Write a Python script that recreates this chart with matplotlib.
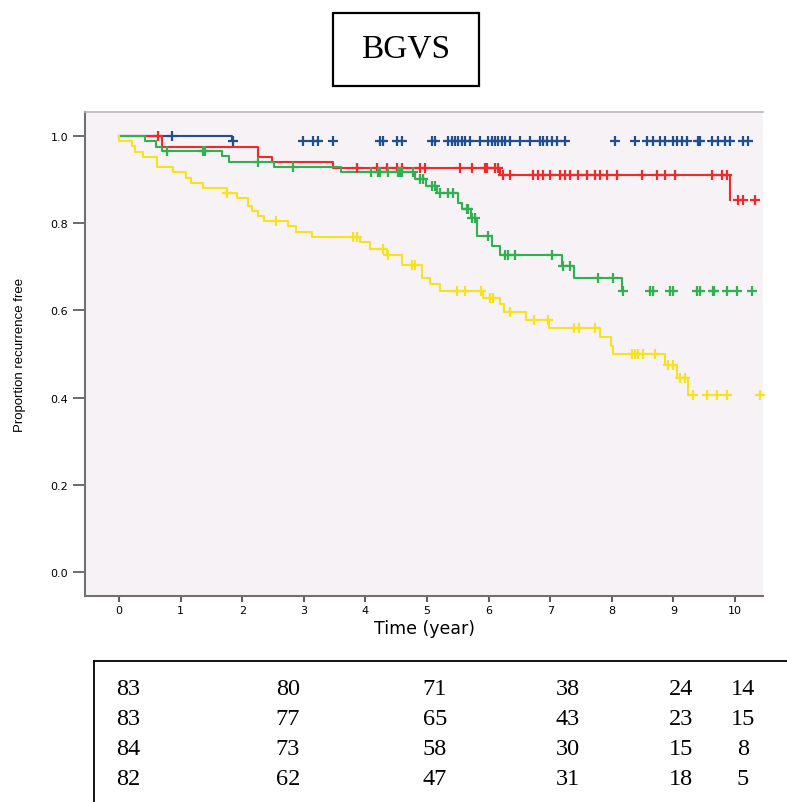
import numpy as np
import matplotlib.pyplot as plt
from matplotlib.lines import Line2D
from matplotlib.patches import Rectangle

# Kaplan-Meier steps per group: event times (years) and survival after each event
blue_events = [1.83]
blue_surv = [0.988]
blue_cens = [0.86, 1.85, 2.99, 3.15, 3.23, 3.47, 4.24, 4.29, 4.51, 4.59, 5.08, 5.13,
             5.34, 5.41, 5.45, 5.50, 5.57, 5.62, 5.70, 5.86, 5.99, 6.06, 6.10, 6.15,
             6.22, 6.27, 6.35, 6.51, 6.67, 6.83, 6.88, 6.95, 7.03, 7.11, 7.24, 8.05,
             8.38, 8.57, 8.67, 8.78, 8.86, 8.99, 9.06, 9.14, 9.22, 9.40, 9.43, 9.63,
             9.72, 9.84, 9.92, 10.13, 10.21]

red_events = [0.70, 2.26, 2.48, 3.47, 6.19, 9.92]
red_surv = [0.975, 0.952, 0.940, 0.927, 0.910, 0.853]
red_cens = [0.63, 3.86, 4.19, 4.35, 4.51, 4.59, 4.88, 4.96, 5.54, 5.73, 5.94, 5.97,
            6.10, 6.15, 6.23, 6.35, 6.72, 6.80, 6.88, 7.00, 7.16, 7.24, 7.32, 7.45,
            7.60, 7.73, 7.81, 7.92, 8.08, 8.49, 8.73, 8.86, 9.03, 9.63, 9.79, 9.87,
            10.05, 10.13, 10.32]

green_events = [0.42, 0.60, 0.70, 1.67, 1.79, 2.52, 3.60, 4.81, 4.98, 5.16, 5.50,
                5.57, 5.71, 5.81, 6.06, 6.19, 7.19, 7.39, 8.17]
green_surv = [0.988, 0.975, 0.966, 0.954, 0.940, 0.929, 0.917, 0.901, 0.885, 0.869,
              0.846, 0.833, 0.812, 0.771, 0.748, 0.727, 0.702, 0.674, 0.644]
green_cens = [0.78, 1.36, 1.40, 2.26, 2.82, 4.09, 4.20, 4.24, 4.37, 4.53, 4.56, 4.59,
              4.77, 4.89, 4.94, 5.08, 5.13, 5.21, 5.34, 5.42, 5.65, 5.67, 5.73, 5.78,
              5.99, 6.27, 6.31, 6.43, 7.03, 7.21, 7.32, 7.78, 8.02, 8.19, 8.62, 8.67,
              8.94, 8.99, 9.38, 9.43, 9.64, 9.66, 9.87, 10.03, 10.28]

yellow_events = [0.0, 0.21, 0.26, 0.39, 0.62, 0.88, 1.09, 1.17, 1.36, 1.75, 1.92,
                 2.09, 2.16, 2.26, 2.35, 2.74, 2.87, 3.13, 3.91, 4.07, 4.35, 4.59,
                 4.92, 5.05, 5.21, 5.91, 6.19, 6.25, 6.61, 6.98, 7.81, 7.99, 8.02,
                 8.86, 9.06, 9.24]
yellow_surv = [0.988, 0.977, 0.963, 0.952, 0.929, 0.917, 0.904, 0.892, 0.881, 0.869,
               0.858, 0.839, 0.828, 0.817, 0.805, 0.794, 0.780, 0.768, 0.757, 0.741,
               0.727, 0.704, 0.674, 0.661, 0.644, 0.628, 0.615, 0.596, 0.578, 0.560,
               0.539, 0.518, 0.500, 0.475, 0.445, 0.406]
yellow_cens = [1.76, 2.55, 3.80, 3.86, 4.29, 4.37, 4.76, 4.81, 5.49, 5.62, 5.88, 6.02,
               6.07, 6.35, 6.74, 6.96, 7.39, 7.47, 7.73, 8.33, 8.38, 8.43, 8.51, 8.70,
               8.91, 8.99, 9.11, 9.19, 9.32, 9.55, 9.71, 9.87, 10.41]

# numbers at risk
risk_rows = [
    [83, 80, 71, 38, 24, 14],
    [83, 77, 65, 43, 23, 15],
    [84, 73, 58, 30, 15, 8],
    [82, 62, 47, 31, 18, 5],
]

groups = [
    (blue_events, blue_surv, blue_cens, '#1f4f8f'),
    (red_events, red_surv, red_cens, '#f02a2a'),
    (green_events, green_surv, green_cens, '#30b050'),
    (yellow_events, yellow_surv, yellow_cens, '#f8e21e'),
]


def surv_at(t, events, surv):
    i = np.searchsorted(events, t, side='right')
    return 1.0 if i == 0 else surv[i - 1]


W, H = 787, 803
fig = plt.figure(figsize=(W / 100, H / 100), dpi=100)
ax = fig.add_axes([85 / W, (H - 597) / H, 678 / W, 484 / H])
ax.set_facecolor('#f6f2f6')

for events, surv, cens, col in groups:
    xs = [0.0] + list(events)
    ys = [1.0] + list(surv)
    ax.step(xs, ys, where='post', color=col, lw=1.5, zorder=2)
    cy = [surv_at(t, events, surv) for t in cens]
    ax.plot(cens, cy, ls='none', marker='+', ms=7, mew=1.6, color=col,
            zorder=3, clip_on=False)

ax.set_xlim(-0.552, 10.455)
ax.set_ylim(-0.055, 1.055)
ax.set_xticks(range(0, 11))
ax.set_yticks(np.arange(0, 1.01, 0.2))
ax.set_yticklabels([f'{v:.1f}' for v in np.arange(0, 1.01, 0.2)])
ax.tick_params(axis='x', length=4.5, width=1.5, color='#606060', labelsize=8, pad=2)
ax.tick_params(axis='y', length=9, width=1.3, color='#606060', labelsize=8, pad=3)

for s in ['left', 'bottom']:
    ax.spines[s].set_color('#707070')
    ax.spines[s].set_linewidth(1.5)
ax.spines['top'].set_color('#b8b8b8')
ax.spines['top'].set_linewidth(1.2)
ax.spines['right'].set_visible(False)

ax.set_xlabel('Time (year)', fontsize=12.5, labelpad=3)
ax.set_ylabel('Proportion recurrence free', fontsize=9.5,
              family='Liberation Sans', labelpad=18)

# title box
fig.add_artist(Rectangle((333 / W, 1 - 87 / H), 146 / W, 73 / H, transform=fig.transFigure,
                         fill=False, lw=1.6, ec='black'))
fig.text(406 / W, 1 - 49 / H, 'BGVS', ha='center', va='center', fontsize=24,
         family='Liberation Serif')

# risk table frame
fig.add_artist(Line2D([94 / W, 94 / W], [1 - 662 / H, 0], transform=fig.transFigure,
                      color='black', lw=1.3))
fig.add_artist(Line2D([94 / W, 1], [1 - 662 / H, 1 - 662 / H], transform=fig.transFigure,
                      color='black', lw=1.3))

col_x = [128, 288, 435, 568, 681, 743]
row_y = [690, 720, 750, 780]
for row, yy in zip(risk_rows, row_y):
    for val, xx in zip(row, col_x):
        fig.text(xx / W, 1 - yy / H, str(val), ha='center', va='center',
                 fontsize=17.5, family='Liberation Serif')

fig.savefig('out.png', dpi=100)
